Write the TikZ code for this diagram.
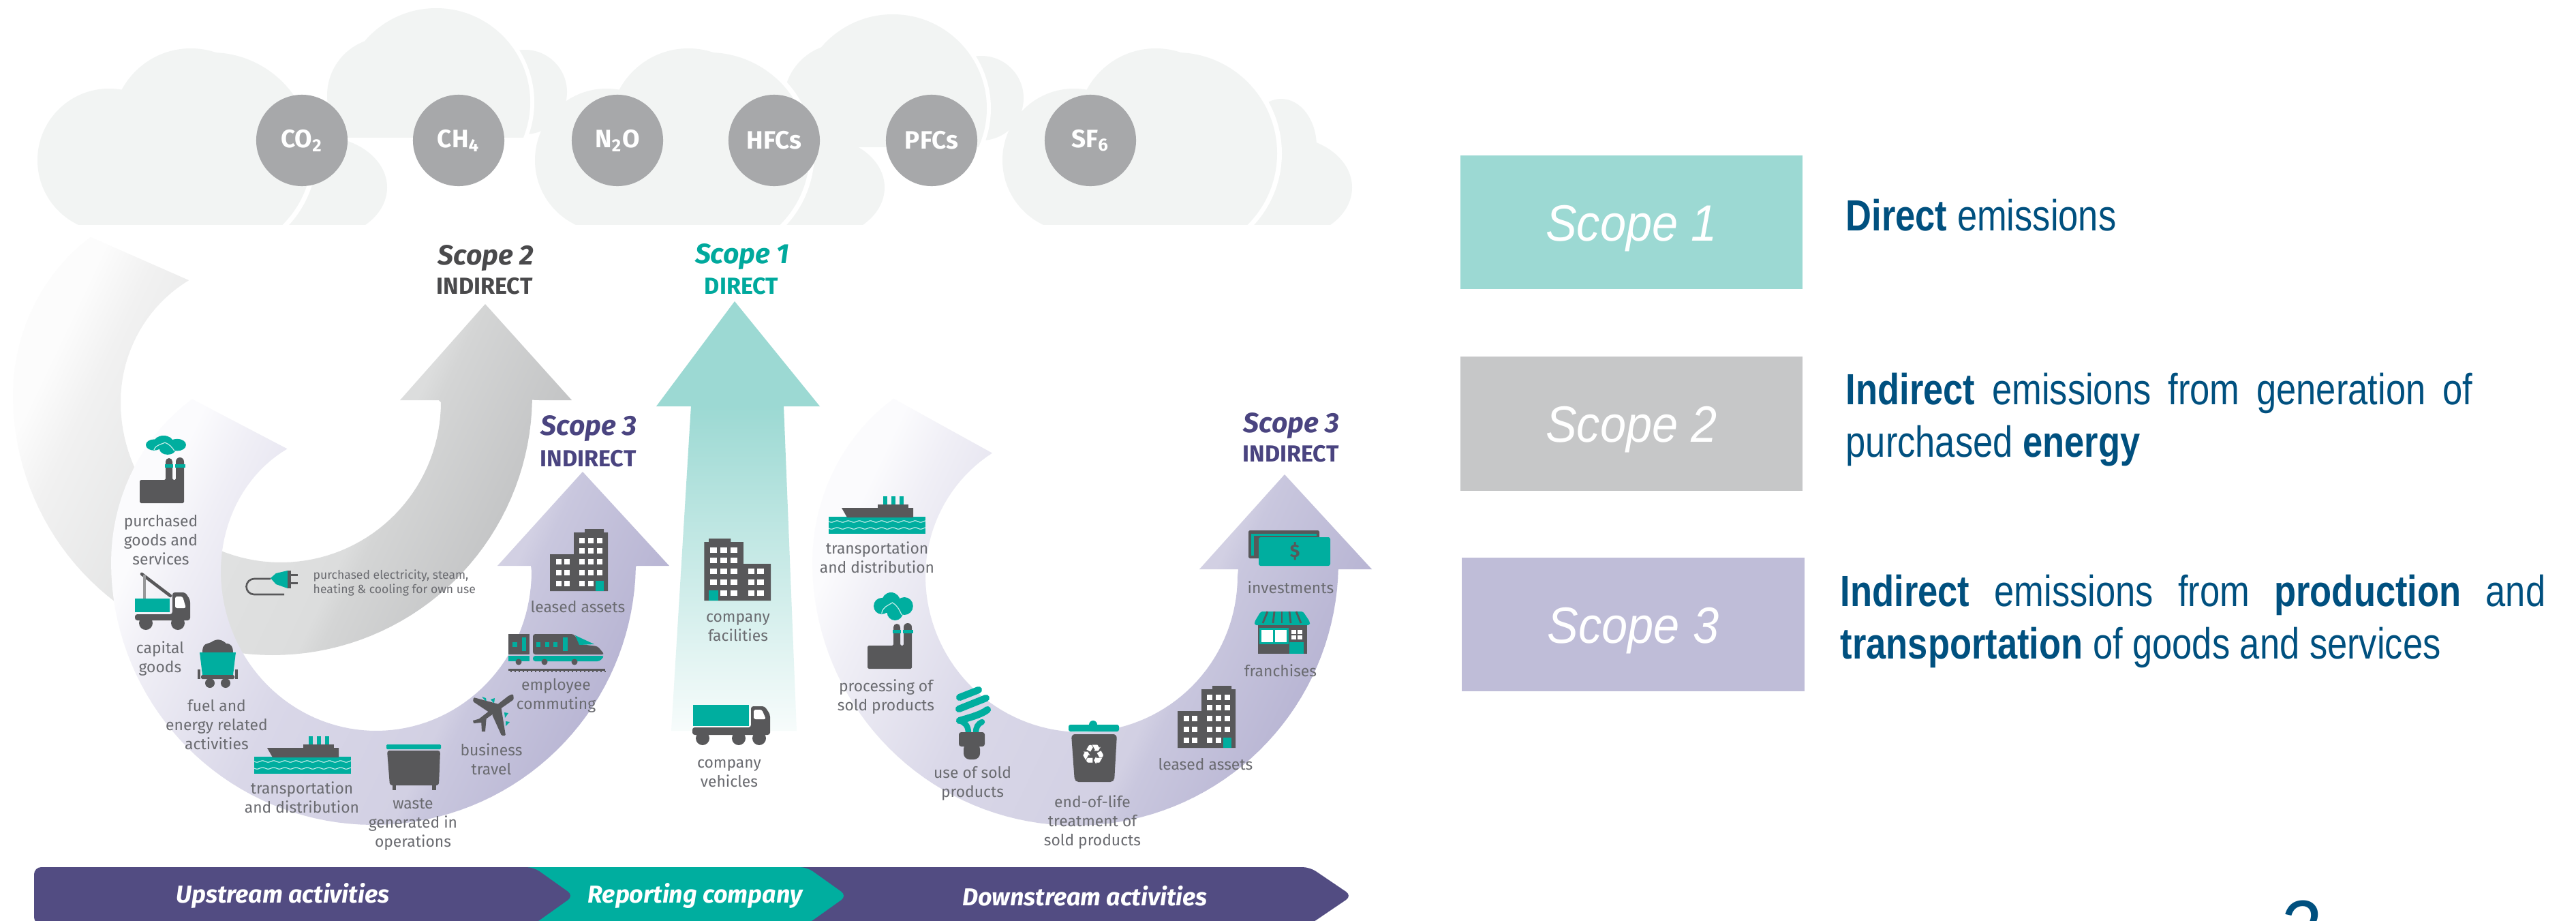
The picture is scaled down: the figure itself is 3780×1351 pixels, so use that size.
\documentclass[tikz,border=0pt]{standalone}
\usepackage{fontspec}
\setmainfont{Fira Sans}
\newfontfamily\ub{Fira Sans}
\newfontfamily\artx[FakeStretch=.82]{Liberation Sans}
\newfontfamily\arsc[FakeStretch=.915]{Liberation Sans}
\newfontfamily\djv{DejaVu Sans}
\definecolor{cl}{HTML}{F2F4F3}
\definecolor{gasc}{HTML}{A7A8AA}
\definecolor{icd}{HTML}{58585A}
\definecolor{ict}{HTML}{00AE9F}
\definecolor{labc}{HTML}{6A6B70}
\definecolor{barp}{HTML}{524C82}
\definecolor{sct}{HTML}{00A99D}
\definecolor{scg}{HTML}{4A4A4C}
\definecolor{scp}{HTML}{4A4480}
\definecolor{navy}{HTML}{00507F}
\definecolor{bx1}{HTML}{9CD9D3}
\definecolor{bx2}{HTML}{C6C7C8}
\definecolor{bx3}{HTML}{BFBDD8}
\definecolor{pa}{HTML}{FBFBFD}
\definecolor{pb}{HTML}{F0EFF6}
\definecolor{pc}{HTML}{D9D7E8}
\definecolor{pd}{HTML}{D2D0E3}
\definecolor{pe}{HTML}{C9C7DE}
\definecolor{pf}{HTML}{B9B6D4}
\definecolor{pg}{HTML}{B4B1CF}
\definecolor{ga}{HTML}{FCFCFC}
\definecolor{gb}{HTML}{F1F1F1}
\definecolor{gc}{HTML}{E2E3E3}
\definecolor{gd}{HTML}{DCDDDD}
\definecolor{ge}{HTML}{D4D5D5}
\definecolor{gf}{HTML}{C4C5C6}
\definecolor{gg}{HTML}{C0C1C2}
\pgfdeclarehorizontalshading{purpleg}{100bp}{color(0bp)=(pa); color(25bp)=(pa); color(30bp)=(pb); color(43.8bp)=(pc); color(59bp)=(pd); color(61bp)=(pe); color(72bp)=(pf); color(75bp)=(pg); color(100bp)=(pg)}
\pgfdeclarehorizontalshading{greyg}{100bp}{color(0bp)=(ga); color(25bp)=(ga); color(30bp)=(gb); color(43.8bp)=(gc); color(59bp)=(gd); color(61bp)=(ge); color(72bp)=(gf); color(75bp)=(gg); color(100bp)=(gg)}
\tikzset{
 lab/.style={font=\ub\fontsize{6.5}{7.97}\selectfont,text=labc,align=center,inner sep=0pt},
 gas/.style={circle,fill=gasc,minimum size=1.34cm,inner sep=0pt,text=white,font=\ub\fontsize{10.5}{12}\selectfont\bfseries},
 sc/.style={font=\ub\fontsize{11.6}{13}\selectfont\bfseries\itshape,inner sep=0pt,anchor=base},
 kind/.style={font=\ub\fontsize{9.7}{11}\selectfont\bfseries,inner sep=0pt,anchor=base},
 bartx/.style={font=\ub\fontsize{10.2}{12}\selectfont\bfseries\itshape,text=white,inner sep=0pt},
 box/.style={minimum width=5.02cm,minimum height=1.965cm,inner sep=0pt,text=white,text height=.54cm,text depth=0pt,font=\arsc\fontsize{21.3}{24}\selectfont\itshape},
 rtx/.style={font=\artx\fontsize{18.2}{21.9}\selectfont,text=navy,inner sep=0pt,align=left},
}
% clouds
\newcommand\cloudA[1]{\begin{scope}[shift={(#1,0)}]
 \clip (0,0) rectangle (620,329);
 \fill[cl] (468,275) ellipse [x radius=100,y radius=75];
 \fill[white] (310,225) circle [radius=155];
 \fill[cl] (160,235) circle [radius=105];
 \fill[cl] (280,186) circle [radius=115];
 \fill[cl] (310,225) circle [radius=148];
\end{scope}}
\newcommand\cloudB[3]{\begin{scope}[shift={(#1,#2)}]
 \clip (450,0) rectangle (900,#3);
 \fill[cl] (770,135) circle [radius=62];
 \fill[white] (640,150) circle [radius=144];
 \fill[cl] (565,140) circle [radius=85];
 \fill[cl] (640,150) circle [radius=138];
\end{scope}}
% icons
\newcommand\building[3]{\begin{scope}[shift={(#1,#2)},xscale=#3]
 \fill[icd] (0,37) -- (35,37) -- (35,5) -- (51,5) -- (51,0) -- (79,0) -- (79,5) -- (85,5) -- (85,91) -- (0,91) -- cycle;
 \foreach \wx in {47,60,73} \foreach \wy in {17,32,48,64} \fill[white] (\wx-4,\wy-4) rectangle (\wx+4,\wy+4);
 \foreach \wx in {47,60} \fill[white] (\wx-4,76) rectangle (\wx+4,84);
 \foreach \wx in {13,25} \foreach \wy in {48,64,80} \fill[white] (\wx-4,\wy-4) rectangle (\wx+4,\wy+4);
 \fill[ict] (67,76) rectangle (79,91);
\end{scope}}
\newcommand\factory[2]{\begin{scope}[shift={(#1,#2)}]
 \fill[icd,rounded corners=.5pt] (0,30) -- (38,30) -- (38,2) -- (48,2) -- (48,30) -- (53,30) -- (53,2) -- (65,2) -- (65,64) -- (0,64) -- cycle;
 \fill[icd] (43,3) circle [radius=5]; \fill[icd] (59,3) circle [radius=6];
 \fill[ict] (37,7) rectangle (49,12); \fill[ict] (52,7) rectangle (67,12);
\end{scope}}
\newcommand\smoke[5]{\begin{scope}[shift={(#1,#2)},xscale=#3,yscale=#4]
 \fill[ict] (12,20) circle [radius=12];
 \fill[ict] (26,14) circle [radius=14];
 \fill[ict] (46,20) circle [radius=13];
 \fill[ict] (32,29) circle [radius=12];
 \fill[ict] (12,14) rectangle (46,30);
 \draw[#5,line width=.35pt] (12,31) .. controls (13,22) and (20,20) .. (28,15) .. controls (34,18) and (38,24) .. (42,33);
\end{scope}}
\newcommand\ship[2]{\begin{scope}[shift={(#1,#2)}]
 \fill[ict] (0,30) rectangle (142,55);
 \foreach \wy in {37,47} \draw[white!85!ict,line width=.3pt] plot[domain=0:142,samples=70] (\x,{\wy+1.2*sin(\x*22)});
 \fill[ict] (80,0) rectangle (86,12); \fill[ict] (92,0) rectangle (98,12); \fill[ict] (104,0) rectangle (110,12);
 \fill[icd] (72,12) rectangle (117,18);
 \fill[icd] (19,17) -- (124,17) -- (124,31) -- (27,31) -- cycle;
\end{scope}}
\begin{document}
\begin{tikzpicture}[x=0.01cm,y=-0.01cm]
\useasboundingbox (0,0) rectangle (3780,1351);
\fill[white] (0,0) rectangle (3780,1351);
% clouds
\cloudB{0}{0}{201}
\cloudB{670}{9}{206}
\cloudA{0}
\cloudA{730}
\fill[cl] (1880,215) ellipse [x radius=52,y radius=70];
\cloudA{1416}
\node[gas] (co) at (443,206) {CO\textsubscript{2}};
\node[gas] (ch) at (673,206) {CH\textsubscript{4}};
\node[gas] (no) at (906,206) {N\textsubscript{2}O};
\node[gas] (hf) at (1136,206) {HFCs};
\node[gas] (pf) at (1367,206) {PFCs};
\node[gas] (sf) at (1600,206) {SF\textsubscript{6}};
% grey arrow
\shade[shading=greyg,shading angle=-25.5]
  plot[domain=221:1,samples=90] ({400+(381-27*pow(max(0,\x-180)/41,2))*cos(\x)},{580+(381-27*pow(max(0,\x-180)/41,2))*sin(\x)})
  -- (791,587) -- (839,587) -- (712,446) -- (587,587) -- (644,587)
  -- plot[domain=0:233,samples=90] ({412+(235-11*pow(max(0,\x-180)/53,2))*cos(\x)},{590+(235-11*pow(max(0,\x-180)/53,2))*sin(\x)}) -- cycle;
% purple arrow 1
\shade[shading=purpleg,shading angle=-25.5]
  plot[domain=222:1,samples=90] ({548+(385-27*pow(max(0,\x-180)/42,2))*cos(\x)},{825+(385-27*pow(max(0,\x-180)/42,2))*sin(\x)})
  -- (934,830) -- (982,830) -- (855,692) -- (730,830) -- (779,830)
  -- plot[domain=0:234,samples=90] ({552+(228-6*pow(max(0,\x-180)/54,2))*cos(\x)},{838+(234-12*pow(max(0,\x-180)/54,2))*sin(\x)}) -- cycle;
% purple arrow 2
\shade[shading=purpleg,shading angle=-25.5]
  plot[domain=222:1,samples=90] ({1578+(386-27*pow(max(0,\x-180)/42,2))*cos(\x)},{825+(386-27*pow(max(0,\x-180)/42,2))*sin(\x)})
  -- (1964,835) -- (2013,835) -- (1885,696) -- (1760,835) -- (1817,835)
  -- plot[domain=0:234,samples=90] ({1587+(229-6*pow(max(0,\x-180)/54,2))*cos(\x)},{845+(229-6*pow(max(0,\x-180)/54,2))*sin(\x)}) -- cycle;
% teal arrow
\fill[bx1] (1078,442) -- (1203,596) -- (1150,596) -- (1014,596) -- (963,596) -- cycle;
\shade[top color=bx1,bottom color=white!92!bx1] (1014,595) -- (1150,595) -- (1169,1072) -- (985,1072) -- cycle;
% scope labels
\node[sc,text=scg] (s2) at (713,388) {Scope 2};
\node[kind,text=scg] (i2) at (711,431) {INDIRECT};
\node[sc,text=sct] (s1) at (1089,386) {Scope 1};
\node[kind,text=sct] (i1) at (1088,431) {DIRECT};
\node[sc,text=scp] (s3a) at (864,638) {Scope 3};
\node[kind,text=scp] (i3a) at (863,684) {INDIRECT};
\node[sc,text=scp] (s3b) at (1895,634) {Scope 3};
\node[kind,text=scp] (i3b) at (1894,677) {INDIRECT};
% ---- upstream icons
\smoke{214}{639}{1}{.68}{white!75!ict}
\factory{205}{674}
% crane truck
\draw[icd,line width=1.3pt,line cap=round] (208,842) -- (250,874);
\draw[gasc!80!icd,line width=1pt] (212,843) -- (212,878);
\fill[ict] (198,878) rectangle (249,898);
\fill[icd,rounded corners=1pt] (253,869) -- (272,869) -- (279,880) -- (279,910) -- (198,910) -- (198,901) -- (253,901) -- cycle;
\fill[white,rounded corners=.8pt] (257,875) -- (268,875) -- (273,892) -- (257,892) -- cycle;
\fill[icd] (214,914) circle [radius=10]; \fill[icd] (261,914) circle [radius=10];
% coal wagon
\fill[icd] (297,957) .. controls (297,942) and (305,945) .. (310,942) .. controls (318,936) and (326,938) .. (332,944) .. controls (340,944) and (342,950) .. (342,957) -- cycle;
\fill[ict] (293,957) -- (346,957) -- (342,990) -- (297,990) -- cycle;
\fill[icd,rounded corners=.5pt] (295,990) rectangle (344,996);
\fill[icd] (290,982) rectangle (294,996); \fill[icd] (345,982) rectangle (349,996);
\fill[icd] (308,1002) circle [radius=7]; \fill[icd] (331,1002) circle [radius=7];
\ship{373}{1080}
% dumpster
\fill[ict,rounded corners=.4pt] (567,1092) rectangle (647,1099);
\fill[icd,rounded corners=1pt] (568,1101) -- (646,1101) -- (644,1152) -- (572,1152) -- cycle;
\fill[icd] (576,1150) rectangle (581,1159); \fill[icd] (634,1150) rectangle (640,1159);
% plane
\fill[ict] (707,1022) -- (713,1024) -- (714,1030) -- cycle;
\fill[ict] (720,1026) -- (726,1024) -- (725,1032) -- cycle;
\fill[ict] (740,1045) -- (746,1046) -- (741,1053) -- cycle;
\fill[ict] (742,1058) -- (748,1059) -- (742,1065) -- cycle;
\fill[icd,rounded corners=.6pt] (747,1020) -- (753,1018) -- (754,1026) -- (704,1061) -- (701,1056) -- cycle;
\fill[icd,rounded corners=.4pt] (732,1033) -- (695,1023) -- (694,1029) -- (718,1045) -- cycle;
\fill[icd,rounded corners=.4pt] (735,1035) -- (742,1079) -- (736,1079) -- (722,1048) -- cycle;
\fill[icd] (712,1052) -- (694,1057) -- (695,1061) -- (706,1060) -- cycle;
\fill[icd] (706,1056) -- (707,1073) -- (712,1073) -- (714,1050) -- cycle;
% train
\fill[icd] (746,930) rectangle (777,960);
\fill[icd,rounded corners=1pt] (782,960) -- (782,930) -- (842,930) -- (852,945) -- (877,948) -- (887,960) -- cycle;
\fill[ict] (844,932) -- (872,945) -- (850,946) -- cycle;
\fill[ict] (746,962) rectangle (777,970);
\fill[ict,rounded corners=1pt] (782,962) -- (887,962) -- (880,970) -- (782,970) -- cycle;
\foreach \tx in {761,799,843} \fill[icd] (\tx,971) circle [radius=4.5];
\fill[icd] (746,981) rectangle (888,984);
\foreach \tx in {750,756,...,888} \fill[icd] (\tx-1,984) rectangle (\tx+1,986);
\fill[ict] (752,942) rectangle (759,949); \fill[ict] (766,935) rectangle (772,955);
\foreach \tx in {790,803,815} \fill[ict] (\tx-3,942) rectangle (\tx+3,949);
\fill[ict] (826,935) rectangle (833,955);
\building{807}{776}{1}
% plug
\draw[icd,line width=.75pt] (397,849) -- (373,849) arc[start angle=270,end angle=90,radius=11.5] -- (417,872);
\fill[ict] (397,848) -- (405,841) -- (422,837) -- (422,863) -- (405,857) -- cycle;
\fill[icd] (422,837) rectangle (427,863);
\fill[icd] (427,842) rectangle (437,845); \fill[icd] (427,854) rectangle (437,857);
% company icons
\building{1131}{790}{-1.15}
\fill[ict] (1017,1034) rectangle (1099,1065);
\fill[icd,rounded corners=1pt] (1102,1036) -- (1122,1036) -- (1130,1048) -- (1130,1078) -- (1016,1078) -- (1016,1067) -- (1102,1067) -- cycle;
\fill[white,rounded corners=.8pt] (1106,1041) -- (1118,1041) -- (1124,1055) -- (1106,1055) -- cycle;
\foreach \wh in {1031,1084,1114} \fill[icd] (\wh,1083) circle [radius=10];
% ---- downstream icons
\ship{1216}{728}
\smoke{1282}{869}{.98}{1}{white!75!ict}
\factory{1273}{917}
% bulb
\draw[ict,line width=2.9pt,line cap=round] (1408,1023) -- (1436,1012);
\draw[ict,line width=2.9pt,line cap=round] (1407,1040) -- (1447,1024);
\draw[ict,line width=2.9pt,line cap=round] (1408,1057) .. controls (1425,1052) and (1440,1048) .. (1449,1041);
\draw[ict,line width=2.4pt] (1408,1057) .. controls (1416,1060) and (1421,1064) .. (1421,1076);
\draw[ict,line width=2.4pt,line cap=round] (1432,1075) .. controls (1432,1066) and (1435,1062) .. (1441,1059);
\fill[icd,rounded corners=1pt] (1407,1074) rectangle (1445,1095);
\fill[icd,rounded corners=2.5pt] (1414,1090) rectangle (1438,1114);
% bin
\fill[ict,rounded corners=.8pt] (1568,1063) rectangle (1642,1073);
\fill[ict] (1604,1063) circle [radius=6];
\fill[icd,rounded corners=1.6pt] (1572,1077) -- (1639,1077) -- (1635,1147) -- (1577,1147) -- cycle;
\node[font=\djv\fontsize{11.5}{12}\selectfont,text=white,inner sep=0pt] (rec) at (1605,1107) {♻};
\building{1728}{1006}{1}
% shop
\fill[ict,rounded corners=.8pt] (1850,897) -- (1912,897) -- (1922,912) -- (1922,917) -- (1841,917) -- (1841,912) -- cycle;
\foreach \sa/\sb in {1860/1853,1870/1868,1881/1881,1892/1894,1902/1909}
  \draw[icd,line width=.8pt] (\sa,897) -- (\sb,914);
\fill[icd] (1846,917) rectangle (1918,959);
\fill[ict] (1848,921) rectangle (1891,945);
\fill[white] (1851,924) rectangle (1868,942); \fill[white] (1871,924) rectangle (1888,942);
\fill[ict] (1892,942) rectangle (1913,959);
\fill[white] (1895,924) rectangle (1902,930); \fill[white] (1904,924) rectangle (1911,930);
\fill[white] (1895,932) rectangle (1902,938); \fill[white] (1904,932) rectangle (1911,938);
% money
\fill[icd,rounded corners=.5pt] (1832,778) rectangle (1936,819);
\fill[ict] (1836,783) rectangle (1932,815);
\fill[icd] (1840,786) rectangle (1936,819);
\fill[ict,rounded corners=.8pt] (1847,788) rectangle (1952,830);
\node[font=\ub\fontsize{7.5}{9}\selectfont\bfseries,text=icd,inner sep=0pt] (doll) at (1900,809) {\$};
% labels
\node[lab] (a1) at (236,792) {purchased\\goods and\\services};
\node[lab] (a2) at (235,966) {capital\\goods};
\node[lab] (a3) at (318,1063) {fuel and\\energy related\\activities};
\node[lab] (a4) at (443,1170) {transportation\\and distribution};
\node[lab] (a5) at (606,1209) {waste\\generated in\\operations};
\node[lab] (a6) at (721,1114) {business\\travel};
\node[lab] (a7) at (816,1020) {employee\\commuting};
\node[lab] (a8) at (848,890) {leased assets};
\node[lab,font=\ub\fontsize{5}{6}\selectfont,align=left,anchor=west] (a9) at (459,855) {purchased electricity, steam,\\heating \& cooling for own use};
\node[lab] (c1) at (1083,920) {company\\facilities};
\node[lab] (c2) at (1070,1134) {company\\vehicles};
\node[lab] (d1) at (1287,818) {transportation\\and distribution};
\node[lab] (d2) at (1300,1022) {processing of\\sold products};
\node[lab] (d3) at (1427,1149) {use of sold\\products};
\node[lab] (d4) at (1603,1206) {end-of-life\\treatment of\\sold products};
\node[lab] (d5) at (1769,1121) {leased assets};
\node[lab] (d6) at (1879,984) {franchises};
\node[lab] (d7) at (1894,862) {investments};
% bar
\fill[barp,rounded corners=3pt] (1100,1272) -- (1922,1272) -- (1984,1314) -- (1922,1356) -- (1100,1356) -- cycle;
\fill[ict,rounded corners=3pt] (700,1272) -- (1184,1272) -- (1243,1314) -- (1184,1356) -- (700,1356) -- cycle;
\fill[barp,rounded corners=3pt] (50,1272) -- (783,1272) -- (842,1314) -- (783,1356) -- (50,1356) -- cycle;
\node[bartx] (b1) at (415,1314) {Upstream activities};
\node[bartx] (b2) at (1020,1314) {Reporting company};
\node[bartx] (b3) at (1592,1314) {Downstream activities};
% right panel
\node[box,fill=bx1] (r1) at (2394,326) {Scope 1};
\node[box,fill=bx2] (r2) at (2394,621.5) {Scope 2};
\node[box,fill=bx3] (r3) at (2396.5,916) {Scope 3};
\node[rtx,anchor=base west] (t1) at (2708,338) {\textbf{Direct} emissions};
\node[rtx,anchor=west] (t2) at (2708,615.5) {\makebox[9.19cm][s]{\textbf{Indirect} emissions from generation of}\\purchased \textbf{energy}};
\node[rtx,anchor=west] (t3) at (2700,911.5) {\makebox[10.34cm][s]{\textbf{Indirect} emissions from \textbf{production} and}\\\textbf{transportation} of goods and services};
\node[font=\arsc\fontsize{34}{36}\selectfont\itshape,text=navy,anchor=base,inner sep=0pt] (pgn) at (3373,1404) {2};
\end{tikzpicture}
\end{document}
